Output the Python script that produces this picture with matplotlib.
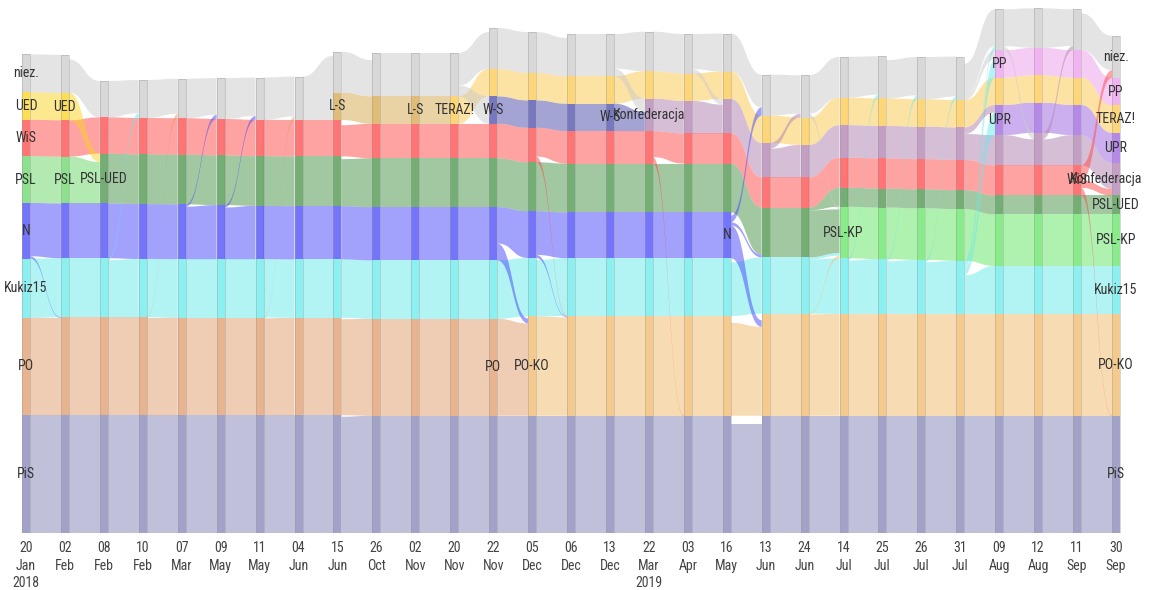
import numpy as np
import matplotlib
matplotlib.use("Agg")
import matplotlib.pyplot as plt
from matplotlib.patches import Rectangle
from matplotlib import font_manager
from matplotlib.transforms import ScaledTranslation

# ---------------- data ----------------
days = ["20", "02", "08", "10", "07", "09", "11", "04", "15", "26", "02", "20", "22", "05",
        "06", "13", "22", "03", "16", "13", "24", "14", "25", "26", "31", "09", "12", "11", "30"]
months = ["Jan", "Feb", "Feb", "Feb", "Mar", "May", "May", "Jun", "Jun", "Oct", "Nov", "Nov", "Nov", "Dec",
          "Dec", "Dec", "Mar", "Apr", "May", "Jun", "Jun", "Jul", "Jul", "Jul", "Jul", "Aug", "Aug", "Sep", "Sep"]
years = ["2018"] + [""] * 15 + ["2019"] + [""] * 12

# seats per group at each date
pis = [238] * 9 + [235] * 20
po = [136, 137, 137, 137, 136, 136, 136, 135, 135, 133, 133, 133, 133] + [0] * 16
po_ko = [0] * 13 + [143, 145, 145, 145, 145, 145, 155, 155] + [154] * 8
kukiz = [30, 30, 30] + [29] * 11 + [28] * 5 + [26, 26, 25, 24, 23, 22] + [16] * 4
psl_kp = [0] * 21 + [20] * 8
nowoczesna = [25, 24, 24, 24, 24, 23, 22, 22, 22, 22, 22, 22, 22, 15, 14, 14, 14, 14, 14] + [0] * 10
psl = [15, 15] + [0] * 27
psl_ued = [0, 0] + [18] * 7 + [17] * 10 + [18, 18] + [1] * 8
wis = [7] * 9 + [6] * 5 + [5] * 3 + [4] * 11 + [0]
konf = [0] * 16 + [5, 5, 6, 6, 5, 5, 5, 5, 5, 4, 5, 4, 5]
upr = [0] * 25 + [4] * 4
w_s = [0] * 12 + [3] * 4 + [0] * 13
ued = [3, 3] + [0] * 27
l_s = [0] * 8 + [3, 3, 3] + [0] * 18
teraz = [0] * 11 + [3] * 18
pp = [0] * 25 + [3] * 4
niez = [8, 8, 7, 8, 9, 10, 11, 12, 10, 12, 12, 12, 10, 10, 11, 11, 9, 9, 8, 10, 11, 10, 11, 11, 12, 10, 9, 10, 11]

# stacking order, bottom -> top
party_names = ["PiS", "PO", "PO-KO", "Kukiz15", "PSL-KP", "N", "PSL", "PSL-UED", "WiS",
               "Konfederacja", "UPR", "W-S", "UED", "L-S", "TERAZ!", "PP", "niez."]
seats = {"PiS": pis, "PO": po, "PO-KO": po_ko, "Kukiz15": kukiz, "PSL-KP": psl_kp,
         "N": nowoczesna, "PSL": psl, "PSL-UED": psl_ued, "WiS": wis, "Konfederacja": konf,
         "UPR": upr, "W-S": w_s, "UED": ued, "L-S": l_s, "TERAZ!": teraz, "PP": pp, "niez.": niez}

# transfers between consecutive dates: (step, from, to, seats)
flow_step = [0, 1, 1, 2, 3, 4, 5, 6, 7, 10, 11, 12, 12, 13, 13, 15, 15, 16, 17,
             18, 18, 18, 19, 20, 20, 20, 20, 21, 22, 23, 24, 24, 24, 24, 24, 25, 26, 27, 27, 27]
flow_from = ["N", "UED", "PSL", "Kukiz15", "PO", "N", "N", "PO", "niez.", "L-S", "niez.", "PO", "N",
             "WiS", "N", "W-S", "niez.", "WiS", "niez.",
             "N", "N", "N", "Konfederacja", "PSL-UED", "PO-KO", "Kukiz15", "niez.",
             "Kukiz15", "Kukiz15", "Kukiz15", "Kukiz15", "Kukiz15", "niez.", "Konfederacja", "Kukiz15",
             "niez.", "Konfederacja", "WiS", "WiS", "WiS"]
flow_to = ["PO", "PSL-UED", "PSL-UED", "niez.", "niez.", "niez.", "niez.", "niez.", "L-S", "TERAZ!", "W-S",
           "PO-KO", "PO-KO", "PO-KO", "PO-KO", "Konfederacja", "Konfederacja", "PiS", "Konfederacja",
           "PO-KO", "niez.", "PSL-UED", "niez.", "PSL-KP", "PSL-KP", "PSL-KP", "PSL-KP",
           "niez.", "niez.", "niez.", "UPR", "PP", "PP", "UPR", "niez.",
           "Konfederacja", "niez.", "niez.", "Konfederacja", "PiS"]
flow_seats = [1, 3, 15, 1, 1, 1, 1, 1, 3, 3, 3, 133, 7, 1, 1, 3, 2, 1, 1,
              10, 2, 1, 1, 17, 1, 1, 1, 1, 1, 1, 3, 2, 1, 1, 1, 1, 1, 2, 1, 1]
stay_override = {(18, "PiS"): 218, (18, "PO-KO"): 135}

base_colors = {"PiS": "#8383b7", "PO": "#e19b6b", "PO-KO": "#f1b969", "Kukiz15": "#67ebeb",
               "PSL-KP": "#61e561", "N": "#4747fb", "PSL": "#67d767", "PSL-UED": "#479347",
               "WiS": "#ff4747", "Konfederacja": "#af81af", "UPR": "#9b61df", "W-S": "#4b4bab",
               "UED": "#fbd31f", "L-S": "#d5a74b", "TERAZ!": "#fbc94b", "PP": "#eb9beb",
               "niez.": "#cbcbcb"}

# ---------------- fonts ----------------
names = {f.name for f in font_manager.fontManager.ttflist}
narrow = None
for cand in ["Liberation Sans Narrow", "Roboto Condensed", "Open Sans Condensed",
             "Noto Sans Condensed", "DejaVu Sans Condensed", "Arial Narrow"]:
    if cand in names:
        narrow = cand
        break
condensed_dejavu = any(f.name == "DejaVu Sans" and f.stretch in ("condensed", 700, "semi-condensed")
                       for f in font_manager.fontManager.ttflist)
if narrow:
    label_font = [narrow, "DejaVu Sans"]
    label_stretch = "normal"
    lab_size, tick_size = 10, 10
elif condensed_dejavu:
    label_font = ["DejaVu Sans"]
    label_stretch = "condensed"
    lab_size, tick_size = 10, 9.5
else:
    label_font = ["Roboto", "DejaVu Sans"]
    label_stretch = "normal"
    lab_size, tick_size = 9.5, 9

W, H = 1154, 590
fig = plt.figure(figsize=(W / 100, H / 100), dpi=100)
ax = fig.add_axes([0, 57 / H, 1, 533 / H])
step_px = 38.93
ax.set_xlim(-26 / step_px, (W - 26) / step_px)
ax.set_ylim(0, 533)
hw = 4 / step_px
SCALE = 19.0


def band_h(n):
    return SCALE * np.cbrt(n) if n > 0 else 0.0


ncol = len(days)
pos = []
for c in range(ncol):
    y = 0.0
    d = {}
    for p in party_names:
        n = seats[p][c]
        if n > 0:
            hh = band_h(n)
            d[p] = (y, y + hh, n, hh)
            y += hh
    pos.append(d)

tt = np.linspace(0, 1, 60)


def ribbon(x0, x1, s_lo, s_hi, t_lo, t_hi, color):
    xm = (x0 + x1) / 2
    bx = (1 - tt) ** 3 * x0 + 3 * (1 - tt) ** 2 * tt * xm + 3 * (1 - tt) * tt ** 2 * xm + tt ** 3 * x1

    def by(a, b):
        return ((1 - tt) ** 3 + 3 * (1 - tt) ** 2 * tt) * a + (3 * (1 - tt) * tt ** 2 + tt ** 3) * b

    top = by(s_hi, t_hi)
    bot = by(s_lo, t_lo)
    ax.fill(np.concatenate([bx, bx[::-1]]), np.concatenate([top, bot[::-1]]),
            color=color, alpha=0.5, lw=0)


for i in range(ncol - 1):
    A, B = pos[i], pos[i + 1]
    fl = [(s, t, v) for st, s, t, v in zip(flow_step, flow_from, flow_to, flow_seats) if st == i]
    out_sum, in_sum = {}, {}
    for s, t, v in fl:
        out_sum[s] = out_sum.get(s, 0) + v
        in_sum[t] = in_sum.get(t, 0) + v
    stays = []
    for p in A:
        if p in B and not any(s == p and t == p for s, t, v in fl):
            v = stay_override.get((i, p), min(A[p][2] - out_sum.get(p, 0), B[p][2] - in_sum.get(p, 0)))
            if v > 0:
                stays.append((p, p, v))
    allf = stays + fl
    src_pos, dst_pos = {}, {}
    for p in A:
        idx = [k for k, f in enumerate(allf) if f[0] == p]
        tot = sum(allf[k][2] for k in idx)
        y0, y1, n, hh = A[p]
        cur = y1 - max(n - tot, 0) * hh / n
        idx.sort(key=lambda k: -(B[allf[k][1]][0] + B[allf[k][1]][1]))
        for k in idx:
            w = hh * allf[k][2] / n
            src_pos[k] = (cur - w, cur)
            cur -= w
    for q in B:
        idx = [k for k, f in enumerate(allf) if f[1] == q]
        tot = sum(allf[k][2] for k in idx)
        y0, y1, n, hh = B[q]
        cur = y1 - max(n - tot, 0) * hh / n
        idx.sort(key=lambda k: -(A[allf[k][0]][0] + A[allf[k][0]][1]))
        for k in idx:
            w = hh * allf[k][2] / n
            dst_pos[k] = (cur - w, cur)
            cur -= w
    for k, (s, t, v) in enumerate(allf):
        ribbon(i + hw, i + 1 - hw, src_pos[k][0], src_pos[k][1], dst_pos[k][0], dst_pos[k][1],
               base_colors[s])

# nodes
for c in range(ncol):
    for p, (y0, y1, n, hh) in pos[c].items():
        ax.add_patch(Rectangle((c - hw, y0), 2 * hw, hh, facecolor=base_colors[p], alpha=0.75,
                               edgecolor="none"))
    top = max(v[1] for v in pos[c].values())
    ax.add_patch(Rectangle((c - hw, 0), 2 * hw, top, fill=False, edgecolor="#9a9a9a",
                           alpha=0.4, lw=0.7))

# labels at first and last appearance
texts = []
for p in party_names:
    cols = [c for c in range(ncol) if seats[p][c] > 0]
    for c in sorted({cols[0], cols[-1]}):
        y0, y1, n, hh = pos[c][p]
        texts.append(ax.text(c, (y0 + y1) / 2, p, ha="center", va="center", fontsize=lab_size,
                             color="#333333", family=label_font, fontstretch=label_stretch))

ticklabels = [d + "\n" + m + ("\n" + y if y else "") for d, m, y in zip(days, months, years)]
ax.set_xticks(range(ncol))
ax.set_xticklabels(ticklabels, fontsize=tick_size, color="#444444", family=label_font,
                   fontstretch=label_stretch, linespacing=1.3, va="top")
ax.tick_params(axis="x", length=0, pad=6)
ax.set_yticks([])
for sp in ax.spines.values():
    sp.set_visible(False)

# keep labels inside the figure (shift those that would be cut at the right/left edge)
fig.canvas.draw()
renderer = fig.canvas.get_renderer()
for t in texts:
    bb = t.get_window_extent(renderer)
    dx = 0.0
    if bb.x1 > W - 12:
        dx = (W - 12) - bb.x1
    elif bb.x0 < 3:
        dx = 3 - bb.x0
    if dx:
        t.set_transform(t.get_transform() + ScaledTranslation(dx / 100, 0, fig.dpi_scale_trans))

fig.savefig("out.png", dpi=100)
